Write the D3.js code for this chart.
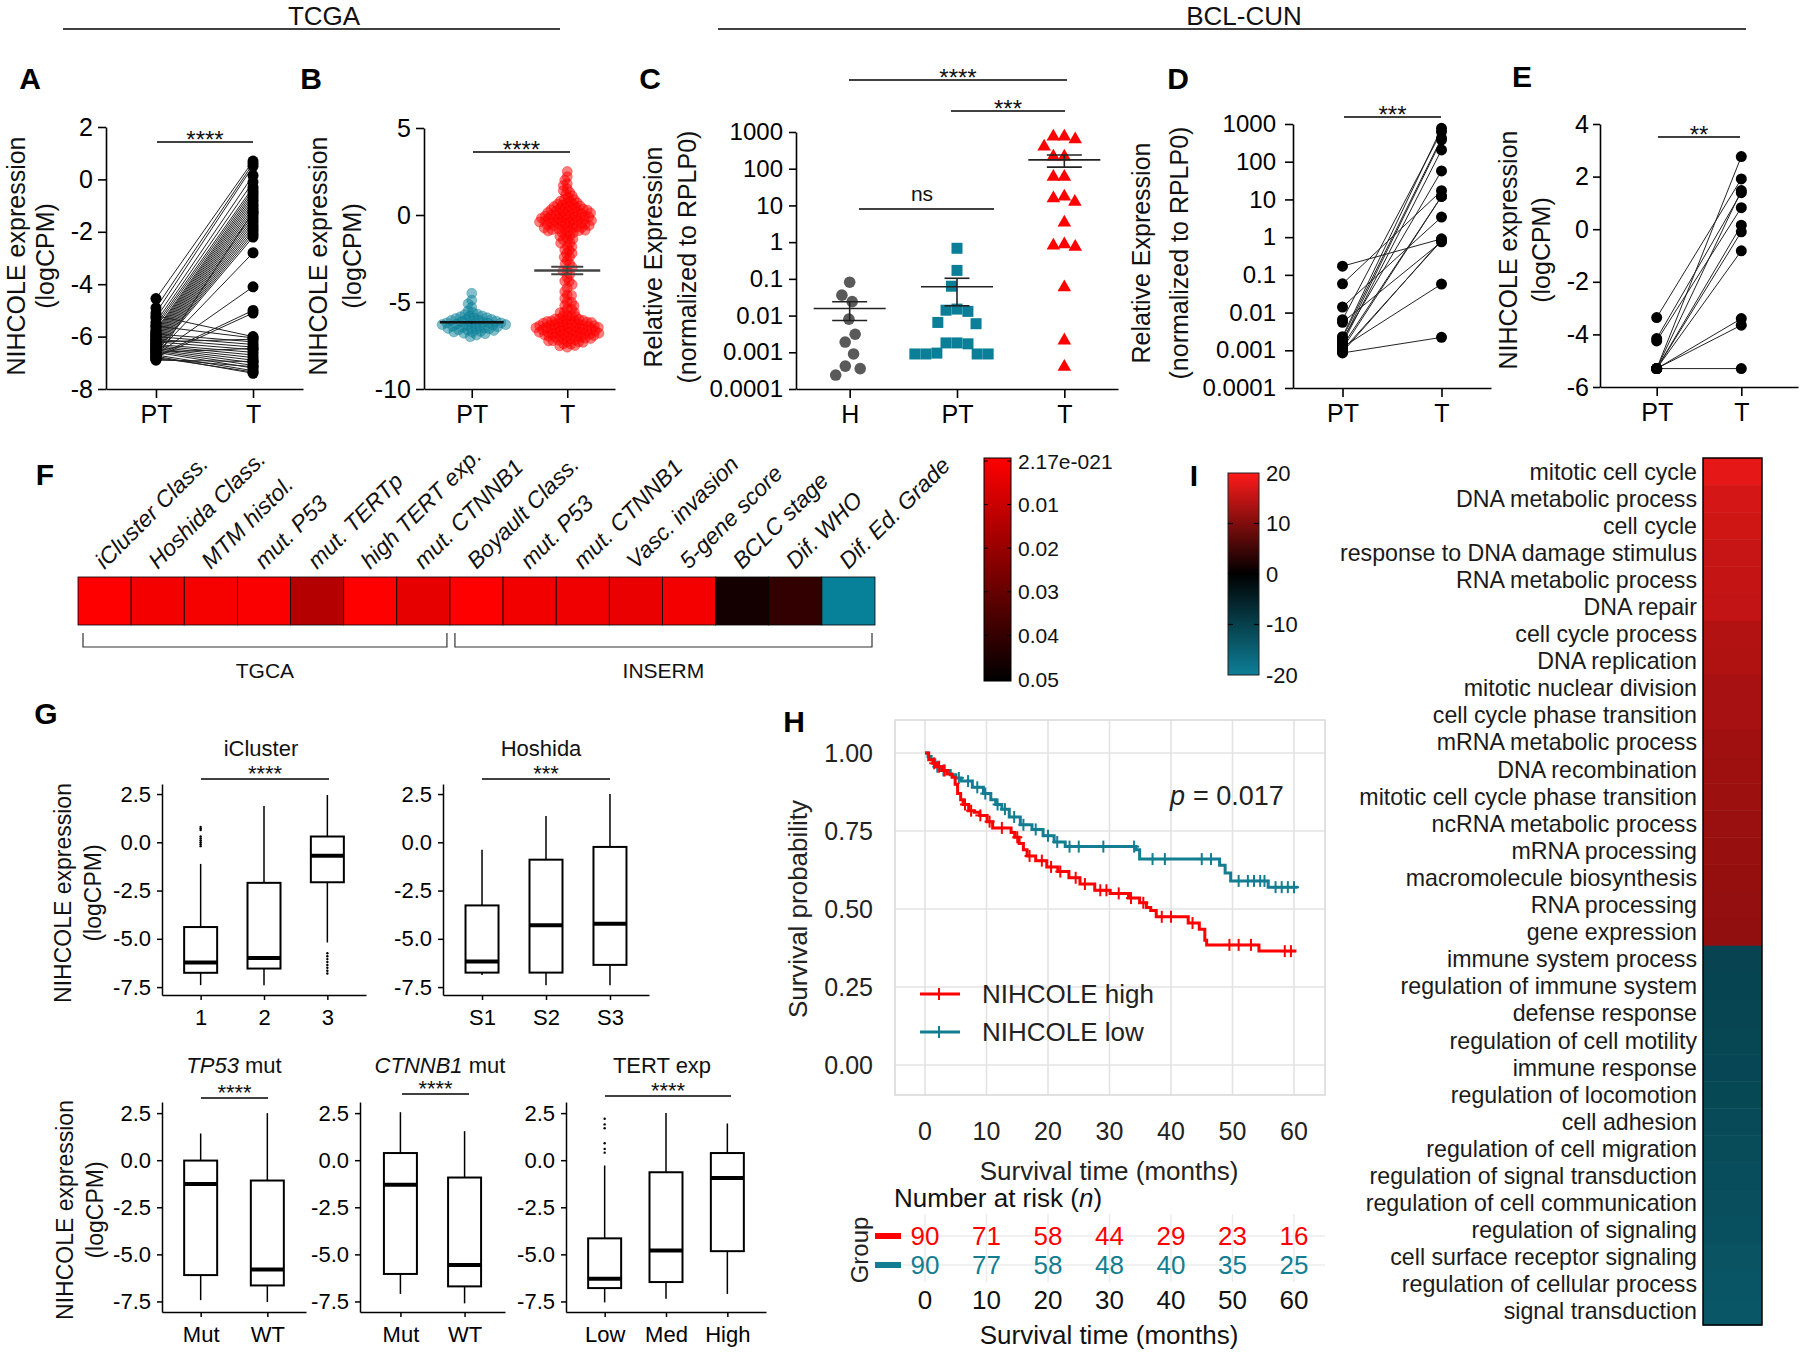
<!DOCTYPE html>
<html><head><meta charset="utf-8">
<script src="https://cdn.jsdelivr.net/npm/d3@7/dist/d3.min.js"></script>
<style>html,body{margin:0;padding:0;background:#fff}svg{display:block}</style>
</head><body>
<svg id="fig" width="1800" height="1352" xmlns="http://www.w3.org/2000/svg"></svg>
<script>
// ================= DATA =================
const A_cats = ['PT','T'];
const A_PT = [-4.55,-4.9,-5.1,-5.3,-5.45,-5.55,-5.65,-5.75,-5.8,-5.85,-5.9,-5.95,-6.0,-6.05,-6.1,-6.15,-6.2,-6.25,-6.3,-6.35,-6.4,-6.45,-6.5,-6.55,-6.6,-6.65,-6.7,-6.75,-6.8,-6.85,
  -5.2,-5.6,-5.9,-6.0,-6.1,-6.2,-6.3,-6.35,-6.4,-6.45,-6.5,-6.55,-6.6,-6.7,-6.75,-6.8,-6.85,-6.9,-6.6,-6.2];
const A_T = [0.7,0.6,0.5,0.15,-0.1,-0.3,-0.4,-0.5,-0.6,-0.7,-0.8,-0.9,-1.0,-1.1,-1.2,-1.3,-1.4,-1.5,-1.6,-1.7,-1.8,-1.9,-2.0,-2.1,-2.2,-2.8,-4.1,-5.0,-5.1,-1.25,
  -6.0,-6.05,-6.2,-6.3,-6.4,-6.5,-6.6,-6.7,-6.8,-6.9,-7.0,-7.1,-7.2,-7.3,-7.4,-7.35,-7.15,-6.95,-6.45,-6.1];
const A_yTicks = [-8,-6,-4,-2,0,2];

const B_cats = ['PT','T'];
const B_PT = [-4.5,-4.9,-5.1,-5.3,-5.5,-5.6,-5.7,-5.72,-5.8,-5.82,-5.85,-5.9,-5.92,-5.95,-6.0,-6.02,-6.04,-6.06,-6.1,-6.12,-6.14,-6.16,-6.2,-6.2,-6.22,-6.24,-6.26,-6.3,-6.3,-6.32,-6.34,-6.36,-6.4,-6.42,-6.44,-6.46,-6.5,-6.52,-6.54,-6.56,-6.6,-6.62,-6.64,-6.7,-6.72,-6.74,-6.8,-6.82,-6.9,-7.0];
const B_T = [2.5,2.2,2.0,1.8,1.7,1.5,1.4,1.3,1.2,1.1,1.0,
  0.9,0.88,0.8,0.78,0.7,0.68,0.6,0.58,0.62,0.5,0.48,0.52,0.4,0.38,0.42,
  0.3,0.28,0.32,0.34,0.2,0.18,0.22,0.24,0.1,0.08,0.12,0.14,
  0.0,-0.02,0.02,-0.04,0.04,-0.1,-0.12,-0.08,-0.14,-0.06,
  -0.2,-0.22,-0.18,-0.24,-0.16,-0.3,-0.32,-0.28,-0.34,-0.26,
  -0.4,-0.42,-0.38,-0.44,-0.36,-0.5,-0.52,-0.48,-0.54,-0.46,
  -0.6,-0.62,-0.58,-0.64,-0.7,-0.72,-0.68,-0.74,-0.8,-0.82,-0.78,-0.84,
  -0.9,-0.92,-0.88,-1.0,-1.02,-0.98,-1.2,-1.22,-1.18,-1.4,-1.42,-1.38,
  -1.6,-1.62,-1.8,-1.82,-2.0,-2.02,-2.2,-2.22,-2.4,-2.42,-2.6,-2.8,-2.82,
  -3.0,-3.2,-3.22,-3.4,-3.6,-3.8,-3.82,-4.0,-4.2,-4.4,-4.6,-4.62,-4.8,
  -5.0,-5.02,-5.2,-5.22,-5.4,-5.42,-5.6,-5.62,-5.58,-5.8,-5.82,-5.78,-5.84,
  -6.0,-6.02,-5.98,-6.04,-5.96,-6.1,-6.12,-6.08,-6.14,-6.06,-6.2,-6.22,-6.18,-6.24,-6.16,
  -6.3,-6.32,-6.28,-6.34,-6.26,-6.36,-6.4,-6.42,-6.38,-6.44,-6.36,-6.46,-6.5,-6.52,-6.48,-6.54,-6.46,-6.56,
  -6.6,-6.62,-6.58,-6.64,-6.56,-6.66,-6.7,-6.72,-6.68,-6.74,-6.66,-6.76,-6.8,-6.82,-6.78,-6.84,-6.76,-6.86,
  -6.9,-6.92,-6.88,-6.94,-6.86,-7.0,-7.02,-6.98,-7.04,-6.96,-7.1,-7.12,-7.08,-7.14,-7.2,-7.22,-7.18,-7.24,
  -7.3,-7.32,-7.28,-7.4,-7.42,-7.5,-7.52,-7.6];
const B_yTicks = [-10,-5,0,5];

const C_cats = ['H','PT','T'];
const C_H = [0.081,0.036,0.024,0.008,0.0031,0.0019,0.0009,0.00042,0.00036,0.00024];
const C_PT = [0.68,0.17,0.063,0.015,0.014,0.013,0.0065,0.006,0.0018,0.0018,0.0017,0.0009,0.0009,0.0009,0.00095,0.0009];
const C_T = [750,630,750,400,213,213,60,60,17.5,12.5,15.5,3.4,0.87,0.75,0.8,0.059,0.0021,0.0004];
const LOG_ticks = [1e-4,1e-3,1e-2,0.1,1,10,100,1000];
const LOG_labels = ['0.0001','0.001','0.01','0.1','1','10','100','1000'];

const D_cats = ['PT','T'];
const D_PT = [0.17,0.058,0.014,0.0065,0.0055,0.0023,0.0021,0.0019,0.0017,0.0015,0.0013,0.0012,0.0011,0.001,0.0009,0.00085];
const D_T  = [0.9,17,3.4,630,0.75,770,420,57,380,205,12,0.057,12,0.8,0.85,0.0022];

const E_cats = ['PT','T'];
const E_PT = [-3.36,-4.16,-4.25,-5.3,-5.3,-5.3,-5.3,-5.3,-5.3,-5.3,-5.3];
const E_T  = [1.91,1.39,0.82,2.76,1.47,0.15,-0.10,-0.82,-3.40,-3.65,-5.30];
const E_yTicks = [-6,-4,-2,0,2,4];

const F_labels = ['iCluster Class.','Hoshida Class.','MTM histol.','mut. P53','mut. TERTp','high TERT exp.','mut. CTNNB1',
  'Boyault Class.','mut. P53','mut. CTNNB1','Vasc. invasion','5-gene score','BCLC stage','Dif. WHO','Dif. Ed. Grade'];
const F_pvals = [2.17e-21,0.002,0.0015,0.001,0.0145,1e-6,0.005,1e-5,0.0025,0.003,0.004,0.002,0.046,0.040,0.2];
const F_groups = ['TGCA','INSERM'];
const F_groupSizes = [7,8];
const F_cbTicks = [0,0.01,0.02,0.03,0.04,0.05];
const F_cbLabels = ['2.17e-021','0.01','0.02','0.03','0.04','0.05'];

const G_icCats = ['1','2','3'];
const G_icStats = [[-7.4,-6.76,-6.23,-4.39,-1.12],[-7.4,-6.54,-5.99,-2.1,1.88],[-5.19,-2.07,-0.7,0.3,2.45]];
const G_icOut = [[0.8,0.72,0.64,0.3,0.2,0.1,0.0,-0.1,-0.2],[],[-5.75,-5.9,-6.05,-6.2,-6.35,-6.5,-6.65,-6.8]];
const G_hoCats = ['S1','S2','S3'];
const G_hoStats = [[-6.87,-6.75,-6.17,-3.27,-0.38],[-7.4,-6.75,-4.3,-0.9,1.36],[-7.4,-6.35,-4.22,-0.24,2.5]];
const G_tpCats = ['Mut','WT'];
const G_tpStats = [[-7.43,-6.1,-1.26,-0.02,1.42],[-7.53,-6.65,-5.8,-1.08,2.5]];
const G_ctCats = ['Mut','WT'];
const G_ctStats = [[-7.1,-6.04,-1.31,0.38,2.55],[-7.6,-6.7,-5.56,-0.92,1.54]];
const G_teCats = ['Low','Med','High'];
const G_teStats = [[-7.55,-6.79,-6.29,-4.15,-0.28],[-7.35,-6.47,-4.79,-0.64,2.5],[-7.1,-4.83,-0.94,0.38,1.95]];
const G_teOut = [[2.2,1.9,1.7,0.9,0.6,0.4],[],[]];
const G_yTicks = [-7.5,-5,-2.5,0,2.5];

const H_highT = [0,0.6,1.3,2.0,2.8,3.6,4.4,4.9,5.3,5.8,6.2,7.1,8.0,8.9,10.1,11.0,14.0,14.6,15.3,16.0,16.6,18.0,19.8,21.6,23.4,25.2,27.6,30.1,33.1,34.9,36.0,36.7,37.6,42.8,44.6,45.5,45.8,54.3];
const H_highS = [1.0,0.978,0.967,0.956,0.944,0.933,0.922,0.90,0.87,0.85,0.835,0.815,0.81,0.80,0.78,0.76,0.745,0.73,0.71,0.69,0.67,0.655,0.635,0.62,0.60,0.58,0.56,0.55,0.535,0.52,0.505,0.495,0.475,0.455,0.435,0.40,0.385,0.365];
const H_lowT = [0,0.5,1.0,1.6,2.5,4.1,5.0,5.9,7.7,9.5,10.7,11.5,12.5,13.7,15.5,17.4,19.2,21.0,22.8,34.3,34.9,47.9,48.8,49.7,55.8];
const H_lowS = [1.0,0.989,0.978,0.956,0.944,0.93,0.92,0.91,0.89,0.87,0.85,0.835,0.82,0.795,0.77,0.755,0.735,0.715,0.70,0.69,0.66,0.64,0.615,0.59,0.57];
const H_highCens = [1.5,2.3,3.2,6.5,7.5,9.0,10.5,12.5,15.0,17.0,19.0,20.5,22.0,24.5,26.0,28.5,29.5,31.5,33.5,35.5,38.5,40.0,43.5,49.5,51.0,53.0,58.5,59.5];
const H_lowCens = [2.0,3.0,5.5,7.0,8.5,9.8,11.8,13.0,14.5,16.0,18.0,20.0,21.5,23.5,25.0,29.0,34.0,37.0,39.0,45.0,46.5,51.0,52.5,53.5,54.5,55.2,57.0,58.0,59.0,60.0];
const H_xTicks = [0,10,20,30,40,50,60];
const H_yTicks = [0,0.25,0.5,0.75,1];
const H_riskHigh = [90,71,58,44,29,23,16];
const H_riskLow = [90,77,58,48,40,35,25];
const H_groups = ['NIHCOLE high','NIHCOLE low'];

const I_terms = ['mitotic cell cycle','DNA metabolic process','cell cycle','response to DNA damage stimulus','RNA metabolic process','DNA repair',
 'cell cycle process','DNA replication','mitotic nuclear division','cell cycle phase transition','mRNA metabolic process','DNA recombination',
 'mitotic cell cycle phase transition','ncRNA metabolic process','mRNA processing','macromolecule biosynthesis','RNA processing','gene expression',
 'immune system process','regulation of immune system','defense response','regulation of cell motility','immune response','regulation of locomotion',
 'cell adhesion','regulation of cell migration','regulation of signal transduction','regulation of cell communication','regulation of signaling',
 'cell surface receptor signaling','regulation of cellular process','signal transduction'];
const I_scores = [18,16.6,16.3,15.6,15.4,15.2,14,13.8,13.2,13.1,12.6,12.4,12.2,12.1,11.9,11.7,11.6,11.4,
  -10.6,-10.7,-10.9,-11,-11.1,-11.3,-11.6,-11.9,-12.1,-12.3,-12.6,-13.1,-13.4,-13.6];
const I_cbTicks = [20,10,0,-10,-20];

// ================= HELPERS =================
const FONT = '"Liberation Sans", Arial, Helvetica, sans-serif';
const RED = '#ff0000', TEAL = '#0a7f97', INK = '#111';
const svg = d3.select('#fig').attr('font-family', FONT);
svg.append('rect').attr('width',1800).attr('height',1352).attr('fill','#fff');

function T(g, x, y, s, o = {}) {
  const t = g.append('text').attr('x', x).attr('y', y)
    .attr('font-size', o.size || 24).attr('text-anchor', o.anchor || 'middle')
    .attr('dominant-baseline', o.base || 'central').attr('fill', o.fill || INK);
  if (o.weight) t.attr('font-weight', o.weight);
  if (o.style) t.attr('font-style', o.style);
  if (o.rot != null) t.attr('transform', `rotate(${o.rot},${x},${y})`);
  if (s != null) t.text(s);
  return t;
}
function L(g, x1, y1, x2, y2, o = {}) {
  return g.append('line').attr('x1',x1).attr('y1',y1).attr('x2',x2).attr('y2',y2)
    .attr('stroke', o.stroke || '#000').attr('stroke-width', o.w || 1.5);
}
function styleAx(a, size, w) {
  a.attr('font-family', FONT).attr('font-size', size);
  a.selectAll('path,line').attr('stroke', '#000').attr('stroke-width', w || 1.6);
  a.selectAll('text').attr('fill', '#000');
}
function yAxis(g, scale, x, ticks, fmt, size, o = {}) {
  const a = g.append('g').attr('transform', `translate(${x},0)`)
    .call(d3.axisLeft(scale).tickValues(ticks).tickFormat(fmt).tickSize(o.len ?? 8).tickSizeOuter(0).tickPadding(o.pad ?? 5));
  styleAx(a, size, o.w); return a;
}
function xAxis(g, scale, y, size, o = {}) {
  const a = g.append('g').attr('transform', `translate(0,${y})`)
    .call(d3.axisBottom(scale).tickSize(o.len ?? 9).tickSizeOuter(0).tickPadding(o.pad ?? 7));
  styleAx(a, size, o.w); return a;
}
function letter(x, y, s) { T(svg, x, y, s, {size: 30, weight: 'bold', fill: '#000'}); }
function sig(g, x1, x2, y, stars, size = 24, off = 6) {
  L(g, x1, y, x2, y, {w: 1.4});
  T(g, (x1 + x2) / 2, y + off, stars, {size, base: 'alphabetic'});
}
function ylab2(x1, x2, cy, l1, l2, size) {
  T(svg, x1, cy, l1, {size, rot: -90});
  T(svg, x2, cy, l2, {size, rot: -90});
}
// deterministic beeswarm layout (ky < 1 widens the vertical collision zone)
function swarm(values, y, d, ky = 1) {
  const pts = values.map((v, i) => ({v, i, y: y(v), x: 0})).sort((a, b) => a.y - b.y);
  const placed = [];
  for (const p of pts) {
    const ivs = [];
    for (const q of placed) {
      const dy = Math.abs(q.y - p.y) * ky;
      if (dy < d) { const dx = Math.sqrt(d * d - dy * dy); ivs.push([q.x - dx, q.x + dx]); }
    }
    const cands = [0];
    ivs.forEach(iv => cands.push(iv[0], iv[1]));
    cands.sort((a, b) => Math.abs(a) - Math.abs(b));
    for (const c of cands) {
      if (ivs.every(iv => c <= iv[0] + 1e-6 || c >= iv[1] - 1e-6)) { p.x = c; break; }
    }
    placed.push(p);
  }
  return pts;
}
const sem = a => d3.deviation(a) / Math.sqrt(a.length);

// ================= HEADERS =================
T(svg, 324, 16, 'TCGA', {size: 26});
L(svg, 63, 29, 560, 29, {w: 1.6});
T(svg, 1244, 16, 'BCL-CUN', {size: 26});
L(svg, 718, 29, 1746, 29, {w: 1.6});

// ================= PANEL A =================
{
  const g = svg.append('g');
  letter(30, 78, 'A');
  const y = d3.scaleLinear().domain([-8, 2]).range([389, 127]);
  const x = d3.scalePoint().domain(A_cats).range([106, 303]).padding(0.515);
  yAxis(g, y, 106, A_yTicks, d => d, 25, {len: 8, pad: 5});
  xAxis(g, x, 389, 25);
  A_PT.forEach((v, i) => L(g, x('PT'), y(v), x('T'), y(A_T[i]), {w: 1, stroke: '#222'}));
  g.selectAll('.pa').data(A_PT).join('circle').attr('cx', x('PT')).attr('cy', d => y(d)).attr('r', 5.5).attr('fill', '#000');
  g.selectAll('.ta').data(A_T).join('circle').attr('cx', x('T')).attr('cy', d => y(d)).attr('r', 5.5).attr('fill', '#000');
  sig(g, 157, 253, 142, '****');
  ylab2(16, 45, 256, 'NIHCOLE expression', '(logCPM)', 25);
}

// ================= PANEL B =================
{
  const g = svg.append('g');
  letter(311, 78, 'B');
  const y = d3.scaleLinear().domain([-10, 5]).range([389, 128]);
  const x = d3.scalePoint().domain(B_cats).range([424, 615]).padding(0.5);
  yAxis(g, y, 424, B_yTicks, d => d, 25, {len: 8, pad: 5});
  xAxis(g, x, 389, 25);
  const sp = swarm(B_PT, y, 5.0);
  g.selectAll('.bp').data(sp).join('circle').attr('cx', d => x('PT') + d.x).attr('cy', d => d.y).attr('r', 5)
    .attr('fill', TEAL).attr('fill-opacity', 0.5).attr('stroke', TEAL).attr('stroke-opacity', 0.35);
  const st = swarm(B_T, y, 4.3);
  g.selectAll('.bt').data(st).join('circle').attr('cx', d => x('T') + d.x).attr('cy', d => d.y).attr('r', 5)
    .attr('fill', RED).attr('fill-opacity', 0.5).attr('stroke', RED).attr('stroke-opacity', 0.35);
  const mP = d3.mean(B_PT), mT = d3.mean(B_T), sT = sem(B_T), sP = sem(B_PT);
  L(g, x('PT') - 32, y(mP), x('PT') + 32, y(mP), {w: 2.5, stroke: '#111'});
  L(g, x('PT'), y(mP - sP), x('PT'), y(mP + sP), {w: 2, stroke: '#111'});
  L(g, x('T') - 33, y(mT), x('T') + 33, y(mT), {w: 2.5, stroke: '#444'});
  L(g, x('T'), y(mT - sT), x('T'), y(mT + sT), {w: 2, stroke: '#444'});
  L(g, x('T') - 16, y(mT + sT), x('T') + 16, y(mT + sT), {w: 2, stroke: '#444'});
  L(g, x('T') - 16, y(mT - sT), x('T') + 16, y(mT - sT), {w: 2, stroke: '#444'});
  sig(g, 473, 570, 152, '****');
  ylab2(318, 352, 256, 'NIHCOLE expression', '(logCPM)', 25);
}

// ================= PANEL C =================
{
  const g = svg.append('g');
  letter(650, 78, 'C');
  const y = d3.scaleLog().domain([1e-4, 1e3]).range([389, 132]);
  const x = d3.scalePoint().domain(C_cats).range([796, 1118]).padding(0.5);
  yAxis(g, y, 796, LOG_ticks, (d, i) => LOG_labels[i], 24, {len: 7, pad: 6});
  xAxis(g, x, 389, 25);
  const groups = [['H', C_H], ['PT', C_PT], ['T', C_T]];
  groups.forEach(([c, vals]) => {
    const sw = swarm(vals, y, 11, 0.6);
    const cx = x(c);
    sw.forEach(p => {
      if (c === 'H') g.append('circle').attr('cx', cx + p.x).attr('cy', p.y).attr('r', 5.8).attr('fill', '#5a5a5a');
      else if (c === 'PT') g.append('rect').attr('x', cx + p.x - 5.5).attr('y', p.y - 5.5).attr('width', 11).attr('height', 11).attr('fill', TEAL);
      else g.append('path').attr('d', d3.symbol(d3.symbolTriangle, 80)()).attr('transform', `translate(${cx + p.x},${p.y})`).attr('fill', RED);
    });
    const m = d3.mean(vals), s = sem(vals);
    L(g, cx - 36, y(m), cx + 36, y(m), {w: 1.6, stroke: '#222'});
    L(g, cx, y(m + s), cx, y(m - s), {w: 1.6, stroke: '#222'});
    const cw = c === 'PT' ? 12.5 : 17.5;
    L(g, cx - cw, y(m + s), cx + cw, y(m + s), {w: 1.6, stroke: '#222'});
    L(g, cx - cw, y(m - s), cx + cw, y(m - s), {w: 1.6, stroke: '#222'});
  });
  sig(g, 849, 1067, 80, '****');
  sig(g, 951, 1065, 111, '***');
  L(g, 859, 209, 994, 209, {w: 1.4});
  T(g, 922, 193, 'ns', {size: 21});
  ylab2(653, 687, 257, 'Relative Expression', '(normalized to RPLP0)', 25);
}

// ================= PANEL D =================
{
  const g = svg.append('g');
  letter(1178, 78, 'D');
  const y = d3.scaleLog().domain([1e-4, 1e3]).range([388, 124]);
  const x = d3.scalePoint().domain(D_cats).range([1293, 1491]).padding(0.5);
  yAxis(g, y, 1293, LOG_ticks, (d, i) => LOG_labels[i], 24, {len: 8, pad: 9});
  xAxis(g, x, 388, 25);
  D_PT.forEach((v, i) => L(g, x('PT'), y(v), x('T'), y(D_T[i]), {w: 1, stroke: '#222'}));
  g.selectAll('.dp').data(D_PT).join('circle').attr('cx', x('PT')).attr('cy', d => y(d)).attr('r', 5.5).attr('fill', '#000');
  g.selectAll('.dt').data(D_T).join('circle').attr('cx', x('T')).attr('cy', d => y(d)).attr('r', 5.5).attr('fill', '#000');
  sig(g, 1344, 1441, 117, '***');
  ylab2(1141, 1179, 253, 'Relative Expression', '(normalized to RPLP0)', 25);
}

// ================= PANEL E =================
{
  const g = svg.append('g');
  letter(1522, 76, 'E');
  const y = d3.scaleLinear().domain([-6, 4]).range([387, 124]);
  const x = d3.scalePoint().domain(E_cats).range([1600, 1798]).padding(0.67);
  yAxis(g, y, 1600, E_yTicks, d => d, 25, {len: 7, pad: 4});
  xAxis(g, x, 387, 25);
  E_PT.forEach((v, i) => L(g, x('PT'), y(v), x('T'), y(E_T[i]), {w: 1, stroke: '#222'}));
  g.selectAll('.ep').data(E_PT).join('circle').attr('cx', x('PT')).attr('cy', d => y(d)).attr('r', 5.5).attr('fill', '#000');
  g.selectAll('.et').data(E_T).join('circle').attr('cx', x('T')).attr('cy', d => y(d)).attr('r', 5.5).attr('fill', '#000');
  sig(g, 1658, 1740, 137, '**');
  ylab2(1508, 1541, 250, 'NIHCOLE expression', '(logCPM)', 25);
}

// ================= PANEL F =================
{
  const g = svg.append('g');
  letter(45, 474, 'F');
  const x = d3.scaleBand().domain(d3.range(F_labels.length)).range([78, 875]);
  const pc = d3.scaleLinear().domain([0, 0.05]).range(['#ff0000', '#000000']);
  const col = p => p > 0.05 ? '#07809a' : pc(p);
  g.selectAll('.fc').data(F_pvals).join('rect').attr('x', (d, i) => x(i)).attr('y', 577).attr('width', x.bandwidth()).attr('height', 48)
    .attr('fill', d => col(d)).attr('stroke', '#000').attr('stroke-width', 0.8);
  F_labels.forEach((s, i) => {
    const cx = x(i) + x.bandwidth() / 2;
    T(g, cx, 570, s, {size: 23, anchor: 'start', base: 'alphabetic', style: 'italic', rot: -45});
  });
  let start = 0;
  F_groups.forEach((gr, k) => {
    const x1 = x(start) + 5, x2 = x(start + F_groupSizes[k] - 1) + x.bandwidth() - 3;
    g.append('path').attr('d', `M${x1},633V647H${x2}V633`).attr('fill', 'none').attr('stroke', '#333').attr('stroke-width', 1.2);
    T(g, (x1 + x2) / 2, 670, gr, {size: 21});
    start += F_groupSizes[k];
  });
  const defs = svg.append('defs');
  const lg = defs.append('linearGradient').attr('id', 'fgrad').attr('x1', 0).attr('y1', 0).attr('x2', 0).attr('y2', 1);
  lg.append('stop').attr('offset', '0%').attr('stop-color', '#ff0000');
  lg.append('stop').attr('offset', '100%').attr('stop-color', '#000000');
  const cy = d3.scaleLinear().domain([0, 0.05]).range([461, 679]);
  g.append('rect').attr('x', 984).attr('y', 458).attr('width', 27).attr('height', 223).attr('fill', 'url(#fgrad)').attr('stroke', '#000').attr('stroke-width', 1);
  F_cbTicks.forEach((t, i) => {
    L(g, 984, cy(t), 988, cy(t), {w: 1}); L(g, 1007, cy(t), 1011, cy(t), {w: 1});
    T(g, 1018, cy(t), F_cbLabels[i], {size: 21, anchor: 'start'});
  });
}

// ================= PANEL I =================
{
  const g = svg.append('g');
  letter(1194, 475, 'I');
  const ic = d3.scaleLinear().domain([-20, 0, 20]).range(['#0d7f97', '#000000', '#ff1a1a']);
  const defs = svg.append('defs');
  const lg = defs.append('linearGradient').attr('id', 'igrad').attr('x1', 0).attr('y1', 0).attr('x2', 0).attr('y2', 1);
  [0, 0.25, 0.5, 0.75, 1].forEach(o => lg.append('stop').attr('offset', o * 100 + '%').attr('stop-color', ic(20 - 40 * o)));
  const cy = d3.scaleLinear().domain([20, -20]).range([473, 675]);
  g.append('rect').attr('x', 1228).attr('y', 473).attr('width', 31).attr('height', 202).attr('fill', 'url(#igrad)').attr('stroke', '#222').attr('stroke-width', 1);
  I_cbTicks.forEach(t => {
    if (t !== 20 && t !== -20) { L(g, 1228, cy(t), 1233, cy(t), {w: 1.2}); L(g, 1254, cy(t), 1259, cy(t), {w: 1.2}); }
    T(g, 1266, cy(t), String(t), {size: 22, anchor: 'start'});
  });
  const y = d3.scaleBand().domain(I_terms).range([458, 1325]);
  g.selectAll('.ir').data(I_terms).join('rect').attr('x', 1703).attr('y', d => y(d)).attr('width', 59).attr('height', y.bandwidth() + 0.5)
    .attr('fill', (d, i) => ic(I_scores[i]));
  g.append('rect').attr('x', 1703).attr('y', 458).attr('width', 59).attr('height', 867).attr('fill', 'none').attr('stroke', '#000').attr('stroke-width', 1.5);
  I_terms.forEach(t => T(g, 1697, y(t) + y.bandwidth() / 2, t, {size: 23.2, anchor: 'end', fill: '#1a1a1a'}));
}

// ================= PANEL G =================
function boxPanel(g, cats, stats, outs, x, y, bw) {
  cats.forEach((c, i) => {
    const [lo, q1, med, q3, hi] = stats[i]; const cx = x(c);
    L(g, cx, y(hi), cx, y(q3), {w: 1.5});
    L(g, cx, y(q1), cx, y(lo), {w: 1.5});
    g.append('rect').attr('x', cx - bw / 2).attr('y', y(q3)).attr('width', bw).attr('height', y(q1) - y(q3))
      .attr('fill', '#fff').attr('stroke', '#000').attr('stroke-width', 2);
    L(g, cx - bw / 2, y(med), cx + bw / 2, y(med), {w: 4});
    (outs && outs[i] || []).forEach(v => g.append('circle').attr('cx', cx).attr('cy', y(v)).attr('r', 1.2).attr('fill', '#000'));
  });
}
function gAxes(g, x, y, x0, x1, size) {
  yAxis(g, y, x0, G_yTicks, d => d.toFixed(1), size, {len: 5, pad: 6, w: 1.5});
  const xa = g.append('g').attr('transform', `translate(0,${y.range()[0]})`)
    .call(d3.axisBottom(x).tickSize(5).tickSizeOuter(0).tickPadding(9));
  styleAx(xa, size, 1.5);
}
{
  const g = svg.append('g');
  letter(46, 713, 'G');
  const y1 = d3.scaleLinear().domain([-7.91, 3.02]).range([995, 784]);
  const xi = d3.scalePoint().domain(G_icCats).range([162, 366]).padding(0.61);
  gAxes(g, xi, y1, 162, 366, 22);
  boxPanel(g, G_icCats, G_icStats, G_icOut, xi, y1, 33);
  T(g, 261, 748, 'iCluster', {size: 22});
  sig(g, 201, 329, 779, '****', 22, 2);
  const xh = d3.scalePoint().domain(G_hoCats).range([443, 649]).padding(0.61);
  gAxes(g, xh, y1, 443, 649, 22);
  boxPanel(g, G_hoCats, G_hoStats, null, xh, y1, 33);
  T(g, 541, 748, 'Hoshida', {size: 22});
  sig(g, 482, 610, 779, '***', 22, 2);
  ylab2(63, 93, 893, 'NIHCOLE expression', '(logCPM)', 23);
  const y2 = d3.scaleLinear().domain([-8.06, 3.09]).range([1312, 1102]);
  const xt = d3.scalePoint().domain(G_tpCats).range([162, 306]).padding(0.58);
  gAxes(g, xt, y2, 162, 306, 22);
  boxPanel(g, G_tpCats, G_tpStats, null, xt, y2, 33);
  const t1 = T(g, 234, 1065, null, {size: 22});
  t1.append('tspan').attr('font-style', 'italic').text('TP53');
  t1.append('tspan').text(' mut');
  sig(g, 201, 268, 1098, '****', 22, 2);
  const xc = d3.scalePoint().domain(G_ctCats).range([360, 505]).padding(0.63);
  gAxes(g, xc, y2, 360, 505, 22);
  boxPanel(g, G_ctCats, G_ctStats, null, xc, y2, 33);
  const t2 = T(g, 440, 1065, null, {size: 22});
  t2.append('tspan').attr('font-style', 'italic').text('CTNNB1');
  t2.append('tspan').text(' mut');
  sig(g, 402, 469, 1094, '****', 22, 2);
  const xe = d3.scalePoint().domain(G_teCats).range([566, 766]).padding(0.63);
  gAxes(g, xe, y2, 566, 766, 22);
  boxPanel(g, G_teCats, G_teStats, G_teOut, xe, y2, 33);
  T(g, 662, 1065, 'TERT exp', {size: 22});
  sig(g, 605, 731, 1096, '****', 22, 2);
  ylab2(65, 95, 1210, 'NIHCOLE expression', '(logCPM)', 23);
}

// ================= PANEL H =================
{
  const g = svg.append('g');
  letter(794, 721, 'H');
  const HTEAL = '#137e91';
  const x = d3.scaleLinear().domain([0, 60]).range([925, 1294]);
  const y = d3.scaleLinear().domain([0, 1]).range([1065, 753]);
  const GRID = '#e3e3e3';
  H_yTicks.forEach(v => L(g, 895, y(v), 1325, y(v), {stroke: GRID, w: 1.6}));
  H_xTicks.forEach(v => L(g, x(v), 720, x(v), 1095, {stroke: GRID, w: 1.6}));
  g.append('rect').attr('x', 895).attr('y', 720).attr('width', 430).attr('height', 375).attr('fill', 'none').attr('stroke', '#dadada').attr('stroke-width', 1.6);
  H_yTicks.forEach(v => T(g, 873, y(v), v.toFixed(2), {size: 25, anchor: 'end', fill: '#222'}));
  H_xTicks.forEach(v => T(g, x(v), 1131, String(v), {size: 25, fill: '#222'}));
  T(g, 1109, 1171, 'Survival time (months)', {size: 26, fill: '#222'});
  T(g, 798, 909, 'Survival probability', {size: 26, fill: '#222', rot: -90});
  const line = d3.line().x(d => x(d[0])).y(d => y(d[1])).curve(d3.curveStepAfter);
  const survAt = (ts, ss, t) => { let s = ss[0]; ts.forEach((tt, i) => { if (tt <= t) s = ss[i]; }); return s; };
  const curves = [[H_lowT, H_lowS, H_lowCens, HTEAL, 60.6], [H_highT, H_highS, H_highCens, RED, 60.4]];
  curves.forEach(([ts, ss, cens, c, end]) => {
    const pts = ts.map((t, i) => [t, ss[i]]); pts.push([end, ss[ss.length - 1]]);
    g.append('path').attr('d', line(pts)).attr('fill', 'none').attr('stroke', c).attr('stroke-width', 3);
    cens.forEach(t => {
      const cx = x(t), cyy = y(survAt(ts, ss, t));
      L(g, cx, cyy - 6, cx, cyy + 6, {stroke: c, w: 2});
      L(g, cx - 5, cyy, cx + 5, cyy, {stroke: c, w: 2});
    });
  });
  const pt = T(g, 1170, 796, null, {size: 27, anchor: 'start', fill: '#222'});
  pt.append('tspan').attr('font-style', 'italic').text('p');
  pt.append('tspan').attr('dx', 8).text('= 0.017');
  [[RED, 994], [HTEAL, 1032]].forEach(([c, yy], i) => {
    L(g, 920, yy, 960, yy, {stroke: c, w: 3});
    L(g, 939, yy - 6, 939, yy + 6, {stroke: c, w: 2});
    T(g, 982, yy, H_groups[i], {size: 26, anchor: 'start', fill: '#222'});
  });
  const rt = T(g, 894, 1198, null, {size: 26, anchor: 'start', fill: '#111'});
  rt.append('tspan').text('Number at risk (');
  rt.append('tspan').attr('font-style', 'italic').text('n');
  rt.append('tspan').text(')');
  [1236, 1265].forEach(yy => L(g, 895, yy, 1325, yy, {stroke: '#ececec', w: 1.5}));
  H_xTicks.forEach(v => L(g, x(v), 1214, x(v), 1282, {stroke: '#ececec', w: 1.5}));
  H_xTicks.forEach((v, i) => {
    T(g, x(v), 1236, String(H_riskHigh[i]), {size: 26, fill: RED});
    T(g, x(v), 1265, String(H_riskLow[i]), {size: 26, fill: HTEAL});
    T(g, x(v), 1300, String(v), {size: 26, fill: '#111'});
  });
  L(g, 875, 1236, 901, 1236, {stroke: RED, w: 6});
  L(g, 875, 1265, 901, 1265, {stroke: HTEAL, w: 6});
  T(g, 859, 1250, 'Group', {size: 24, rot: -90, fill: '#222'});
  T(g, 1109, 1335, 'Survival time (months)', {size: 26, fill: '#111'});
}
</script></body></html>
